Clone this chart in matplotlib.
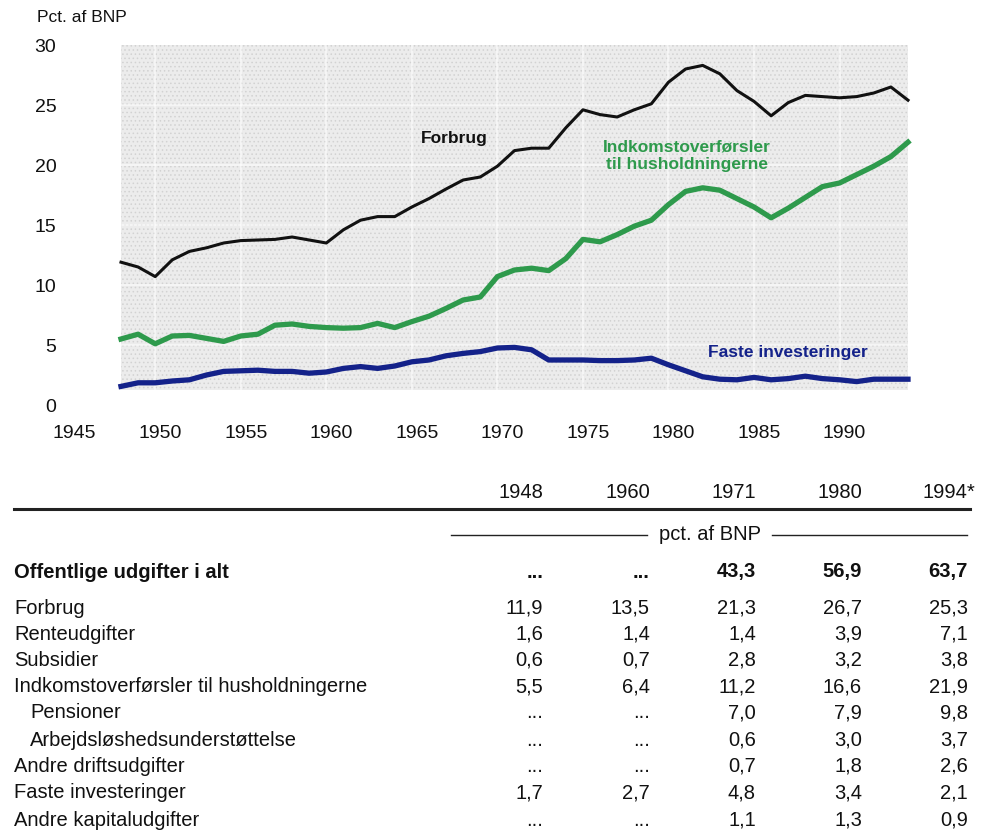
import matplotlib
matplotlib.use("Agg")
import matplotlib.pyplot as plt
from matplotlib.patches import Rectangle
from matplotlib.transforms import ScaledTranslation

plt.rcParams['font.family'] = ['Liberation Sans', 'DejaVu Sans']
plt.rcParams['hatch.color'] = '#d2d2d2'
plt.rcParams['hatch.linewidth'] = 0.6

# Chart data, pct. af BNP
years = list(range(1948, 1995))
forbrug = [11.9, 11.5, 10.7, 12.1, 12.8, 13.1, 13.5, 13.7, 13.75, 13.8,
           14.0, 13.75, 13.5, 14.6, 15.4, 15.7, 15.7, 16.5, 17.2, 18.0,
           18.75, 19.0, 19.9, 21.2, 21.4, 21.4, 23.1, 24.6, 24.2, 24.0,
           24.6, 25.1, 26.9, 28.0, 28.3, 27.6, 26.2, 25.3, 24.1, 25.2,
           25.8, 25.7, 25.6, 25.7, 26.0, 26.5, 25.4]
indkomst = [5.5, 5.9, 5.1, 5.75, 5.8, 5.55, 5.3, 5.75, 5.9, 6.65,
            6.75, 6.55, 6.45, 6.4, 6.45, 6.8, 6.45, 6.95, 7.4, 8.05,
            8.75, 9.0, 10.7, 11.25, 11.4, 11.2, 12.2, 13.8, 13.6, 14.2,
            14.9, 15.4, 16.7, 17.8, 18.1, 17.9, 17.2, 16.5, 15.6, 16.4,
            17.3, 18.2, 18.5, 19.2, 19.9, 20.7, 21.9]
faste = [1.55, 1.85, 1.85, 2.0, 2.1, 2.5, 2.8, 2.85, 2.9, 2.8,
         2.8, 2.65, 2.75, 3.05, 3.2, 3.05, 3.25, 3.6, 3.75, 4.1,
         4.3, 4.45, 4.75, 4.8, 4.6, 3.75, 3.75, 3.75, 3.7, 3.7,
         3.75, 3.9, 3.35, 2.85, 2.35, 2.15, 2.1, 2.3, 2.1, 2.2,
         2.4, 2.2, 2.1, 1.95, 2.15, 2.15, 2.15]

# Table data
col_years = ['1948', '1960', '1971', '1980', '1994*']
row_labels = ['Offentlige udgifter i alt', 'Forbrug', 'Renteudgifter', 'Subsidier',
              'Indkomstoverførsler til husholdningerne', 'Pensioner',
              'Arbejdsløshedsunderstøttelse', 'Andre driftsudgifter',
              'Faste investeringer', 'Andre kapitaludgifter']
row_indent = [False, False, False, False, False, True, True, False, False, False]
v1948 = [None, 11.9, 1.6, 0.6, 5.5, None, None, None, 1.7, None]
v1960 = [None, 13.5, 1.4, 0.7, 6.4, None, None, None, 2.7, None]
v1971 = [43.3, 21.3, 1.4, 2.8, 11.2, 7.0, 0.6, 0.7, 4.8, 1.1]
v1980 = [56.9, 26.7, 3.9, 3.2, 16.6, 7.9, 3.0, 1.8, 3.4, 1.3]
v1994 = [63.7, 25.3, 7.1, 3.8, 21.9, 9.8, 3.7, 2.6, 2.1, 0.9]

W, H = 982, 831
fig = plt.figure(figsize=(W / 100, H / 100), dpi=100)

def fx(px):
    return px / W

def fy(py):
    return 1 - py / H

# chart axes in pixel terms: 1948 -> x 121, 1994 -> x 908; 0 -> y 405, 30 -> y 45
L, R, T, B = 62, 930, 38, 412
ax = fig.add_axes([fx(L), fy(B), (R - L) / W, (B - T) / H])
ppy = (908 - 121) / 46.0
ax.set_xlim(1948 + (L - 121) / ppy, 1948 + (R - 121) / ppy)
ax.set_ylim((405 - B) / 12.0, (405 - T) / 12.0)

bg = Rectangle((1948, 1.25), 46, 28.75, facecolor='#ececec', edgecolor='#d2d2d2',
               hatch='....', linewidth=0, zorder=0)
ax.add_patch(bg)
for yr in range(1950, 1995, 5):
    ax.plot([yr, yr], [1.25, 30], color='white', lw=1.2, alpha=0.6, zorder=1)
for v in range(5, 30, 5):
    ax.plot([1948, 1994], [v, v], color='white', lw=1.2, alpha=0.6, zorder=1)

ax.plot(years, forbrug, color='#111111', lw=2.2, zorder=3)
ax.plot(years, indkomst, color='#2e9a4c', lw=3.8, zorder=3)
ax.plot(years, faste, color='#14228a', lw=3.8, zorder=3)

ax.text(1967.5, 22.25, 'Forbrug', color='#111111', fontsize=12.5, fontweight='bold',
        ha='center', va='center')
ax.text(1981.1, 20.8, 'Indkomstoverførsler\ntil husholdningerne', color='#2e9a4c',
        fontsize=12.5, fontweight='bold', ha='center', va='center', linespacing=1.2)
ax.text(1987.0, 4.4, 'Faste investeringer', color='#14228a', fontsize=12.5,
        fontweight='bold', ha='center', va='center')

ax.set_xticks(range(1945, 1995, 5))
ax.set_yticks(range(0, 31, 5))
ax.tick_params(length=0, labelsize=14, colors='#111111')
ax.tick_params(axis='x', pad=9)
ax.tick_params(axis='y', pad=4)
shift = ScaledTranslation(0.05, 0, fig.dpi_scale_trans)
for lab in ax.get_xticklabels():
    lab.set_transform(lab.get_transform() + shift)
for s in ax.spines.values():
    s.set_visible(False)
ax.patch.set_alpha(0)

fig.text(fx(37), fy(17), 'Pct. af BNP', fontsize=12.5, ha='left', va='center',
         color='#111111')

# Table
tsize = 14.5
col_right = [543, 650, 756, 862, 968]
for cx, lab in zip(col_right, col_years):
    off = 7 if lab.endswith('*') else 0
    fig.text(fx(cx + off), fy(492), lab, fontsize=tsize,
             ha='right', va='center', color='#111111')

fig.add_artist(plt.Line2D([fx(14), fx(970)], [fy(509), fy(509)], color='#222222', lw=2.2))
fig.add_artist(plt.Line2D([fx(451), fx(647)], [fy(535), fy(535)], color='#222222', lw=1))
fig.add_artist(plt.Line2D([fx(772), fx(967)], [fy(535), fy(535)], color='#222222', lw=1))
fig.text(fx(710), fy(535), 'pct. af BNP', fontsize=tsize,
         ha='center', va='center', color='#111111')

row_y = [572, 608, 634, 660, 687, 713, 740, 766, 793, 820]
cols = [v1948, v1960, v1971, v1980, v1994]
for i, lab in enumerate(row_labels):
    wt = 'bold' if i == 0 else 'normal'
    lx = 30 if row_indent[i] else 14
    fig.text(fx(lx), fy(row_y[i]), lab, fontsize=tsize,
             fontweight=wt, ha='left', va='center', color='#111111')
    for cx, col in zip(col_right, cols):
        val = col[i]
        s = '...' if val is None else f'{val:.1f}'.replace('.', ',')
        fig.text(fx(cx), fy(row_y[i]), s, fontsize=tsize,
                 fontweight=wt, ha='right', va='center', color='#111111')

fig.savefig('out.png', dpi=100)
